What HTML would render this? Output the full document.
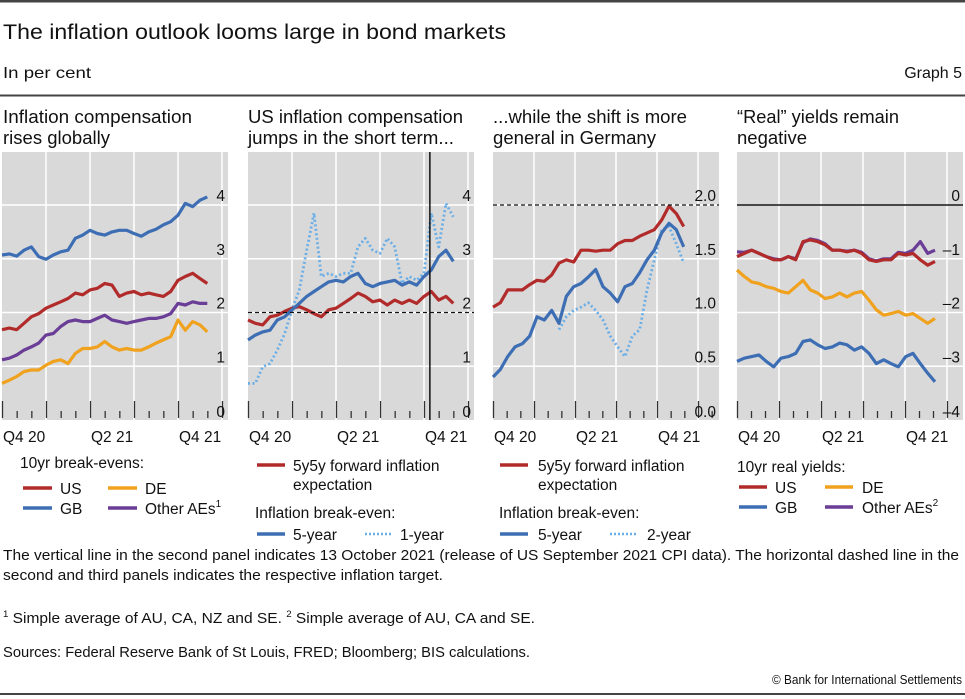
<!DOCTYPE html>
<html><head><meta charset="utf-8"><style>
html,body{margin:0;padding:0;background:#fff}
svg{display:block;font-family:"Liberation Sans",sans-serif}
</style></head><body>
<svg id="c" width="965" height="699" viewBox="0 0 965 699" xmlns="http://www.w3.org/2000/svg">
<rect x="0" y="0" width="965" height="2.5" fill="#444"/>
<text x="3" y="39" font-size="21" fill="#111" textLength="503" lengthAdjust="spacingAndGlyphs">The inflation outlook looms large in bond markets</text>
<text x="3" y="78" font-size="16" fill="#111" textLength="88" lengthAdjust="spacingAndGlyphs">In per cent</text>
<text x="962" y="78" font-size="16" fill="#111" text-anchor="end">Graph 5</text>
<rect x="0" y="94.5" width="965" height="2" fill="#444"/>

<text x="3" y="123" font-size="18" fill="#111" textLength="189" lengthAdjust="spacingAndGlyphs">Inflation compensation</text>
<text x="3" y="144" font-size="18" fill="#111" textLength="107" lengthAdjust="spacingAndGlyphs">rises globally</text>
<text x="248" y="123" font-size="18" fill="#111" textLength="215" lengthAdjust="spacingAndGlyphs">US inflation compensation</text>
<text x="248" y="144" font-size="18" fill="#111" textLength="206" lengthAdjust="spacingAndGlyphs">jumps in the short term...</text>
<text x="493" y="123" font-size="18" fill="#111" textLength="194" lengthAdjust="spacingAndGlyphs">...while the shift is more</text>
<text x="493" y="144" font-size="18" fill="#111" textLength="163" lengthAdjust="spacingAndGlyphs">general in Germany</text>
<text x="737" y="123" font-size="18" fill="#111" textLength="162" lengthAdjust="spacingAndGlyphs">“Real” yields remain</text>
<text x="737" y="144" font-size="18" fill="#111" textLength="70" lengthAdjust="spacingAndGlyphs">negative</text>

<g id="panels"></g>

<g font-size="15.5" fill="#111">
<text x="20" y="468">10yr break-evens:</text>
<line x1="23" y1="488" x2="52" y2="488" stroke="#b22b2b" stroke-width="3.5"/>
<text x="60" y="494">US</text>
<line x1="108" y1="488" x2="137" y2="488" stroke="#f0a21e" stroke-width="3.5"/>
<text x="145" y="494">DE</text>
<line x1="23" y1="508" x2="52" y2="508" stroke="#3d6eb4" stroke-width="3.5"/>
<text x="60" y="514">GB</text>
<line x1="108" y1="508" x2="137" y2="508" stroke="#6a3d96" stroke-width="3.5"/>
<text x="145" y="514">Other AEs<tspan font-size="10" dy="-7">1</tspan></text>
</g>
<g font-size="15.5" fill="#111">
<line x1="257" y1="465" x2="285" y2="465" stroke="#b22b2b" stroke-width="3.5"/>
<text x="293" y="471">5y5y forward inflation</text>
<text x="293" y="490">expectation</text>
<text x="255" y="518">Inflation break-even:</text>
<line x1="257" y1="534" x2="285" y2="534" stroke="#3d6eb4" stroke-width="3.5"/>
<text x="293" y="540">5-year</text>
<line x1="365" y1="534" x2="393" y2="534" stroke="#6aaee8" stroke-width="2.5" stroke-dasharray="2,2"/>
<text x="400" y="540">1-year</text>
</g>
<g font-size="15.5" fill="#111">
<line x1="500" y1="465" x2="528" y2="465" stroke="#b22b2b" stroke-width="3.5"/>
<text x="538" y="471">5y5y forward inflation</text>
<text x="538" y="490">expectation</text>
<text x="499" y="518">Inflation break-even:</text>
<line x1="500" y1="534" x2="528" y2="534" stroke="#3d6eb4" stroke-width="3.5"/>
<text x="538" y="540">5-year</text>
<line x1="610" y1="534" x2="638" y2="534" stroke="#6aaee8" stroke-width="2.5" stroke-dasharray="2,2"/>
<text x="647" y="540">2-year</text>
</g>
<g font-size="15.5" fill="#111">
<text x="737" y="472">10yr real yields:</text>
<line x1="739" y1="487" x2="767" y2="487" stroke="#b22b2b" stroke-width="3.5"/>
<text x="775" y="493">US</text>
<line x1="825" y1="487" x2="853" y2="487" stroke="#f0a21e" stroke-width="3.5"/>
<text x="862" y="493">DE</text>
<line x1="739" y1="507" x2="767" y2="507" stroke="#3d6eb4" stroke-width="3.5"/>
<text x="775" y="513">GB</text>
<line x1="825" y1="507" x2="853" y2="507" stroke="#6a3d96" stroke-width="3.5"/>
<text x="862" y="513">Other AEs<tspan font-size="10" dy="-7">2</tspan></text>
</g>

<g font-size="14.5" fill="#111">
<text x="3" y="560" textLength="956" lengthAdjust="spacingAndGlyphs">The vertical line in the second panel indicates 13 October 2021 (release of US September 2021 CPI data). The horizontal dashed line in the</text>
<text x="3" y="580" textLength="440" lengthAdjust="spacingAndGlyphs">second and third panels indicates the respective inflation target.</text>
<text x="3" y="623" textLength="532" lengthAdjust="spacingAndGlyphs"><tspan font-size="9" dy="-6">1</tspan><tspan dy="6">  Simple average of AU, CA, NZ and SE.    </tspan><tspan font-size="9" dy="-6">2</tspan><tspan dy="6">  Simple average of AU, CA and SE.</tspan></text>
<text x="3" y="657" textLength="527" lengthAdjust="spacingAndGlyphs">Sources: Federal Reserve Bank of St Louis, FRED; Bloomberg; BIS calculations.</text>
<text x="962" y="684" font-size="12.5" text-anchor="end" textLength="190" lengthAdjust="spacingAndGlyphs">© Bank for International Settlements</text>
</g>
<rect x="0" y="693" width="965" height="2" fill="#444"/>
</svg>
<script>
// Panel 1: 10yr break-evens (months since Oct 2020, half-month steps)
const p1US=[1.68,1.71,1.68,1.80,1.92,1.98,2.08,2.14,2.20,2.26,2.36,2.33,2.42,2.45,2.54,2.51,2.30,2.36,2.39,2.33,2.36,2.33,2.30,2.39,2.60,2.67,2.73,2.63,2.54];
const p1GB=[3.07,3.09,3.05,3.16,3.22,3.04,2.99,3.07,3.13,3.16,3.38,3.44,3.53,3.47,3.44,3.50,3.53,3.53,3.47,3.42,3.50,3.55,3.63,3.69,3.81,4.03,3.97,4.09,4.15];
const p1Other=[1.12,1.15,1.21,1.30,1.36,1.43,1.58,1.61,1.74,1.83,1.86,1.83,1.83,1.89,1.95,1.86,1.83,1.80,1.83,1.86,1.89,1.89,1.92,1.98,2.17,2.14,2.20,2.17,2.17];
const p1DE=[0.68,0.74,0.81,0.90,0.93,0.93,1.02,1.09,1.12,1.05,1.24,1.33,1.33,1.36,1.46,1.36,1.30,1.33,1.30,1.30,1.36,1.43,1.49,1.55,1.86,1.67,1.83,1.77,1.64];
// Panel 2: US
const p2FiveFive=[1.86,1.80,1.77,1.92,1.95,2.02,2.08,2.11,2.05,1.98,1.92,2.05,2.08,2.17,2.26,2.36,2.30,2.20,2.23,2.14,2.23,2.17,2.23,2.17,2.30,2.39,2.23,2.30,2.17];
const p2FiveYear=[1.49,1.58,1.64,1.67,1.86,1.92,2.05,2.17,2.30,2.39,2.48,2.57,2.60,2.57,2.67,2.73,2.54,2.48,2.54,2.57,2.60,2.51,2.57,2.51,2.67,2.79,3.04,3.16,2.95];
const p2OneYear=[0.68,0.68,0.99,1.05,1.30,1.61,2.05,2.42,3.16,3.85,2.67,2.73,2.67,2.73,2.73,3.22,3.38,3.16,3.10,3.38,3.22,2.54,2.67,2.60,2.73,3.85,3.22,4.03,3.78];
const p2Target=2;
const p2EventMonth=12.4;
// Panel 3: Germany
const p3FiveFive=[1.05,1.09,1.21,1.21,1.21,1.26,1.30,1.29,1.35,1.46,1.49,1.47,1.58,1.58,1.57,1.58,1.58,1.64,1.67,1.67,1.71,1.74,1.77,1.86,1.99,1.92,1.80];
const p3FiveYear=[0.40,0.47,0.59,0.68,0.71,0.78,0.96,0.93,1.02,0.90,1.15,1.24,1.27,1.33,1.40,1.24,1.18,1.10,1.24,1.27,1.37,1.49,1.58,1.74,1.83,1.77,1.61];
const p3TwoYear=[null,null,null,null,null,null,null,null,null,0.84,0.96,1.02,1.05,1.09,1.02,0.93,0.78,0.68,0.59,0.78,0.84,1.21,1.49,1.77,1.80,1.64,1.46];
const p3Target=2;
// Panel 4: real yields
const p4US=[-0.96,-0.90,-0.84,-0.90,-0.96,-1.02,-1.02,-0.96,-1.02,-0.68,-0.65,-0.68,-0.74,-0.84,-0.84,-0.87,-0.84,-0.90,-1.02,-1.05,-1.02,-1.02,-0.90,-0.93,-0.90,-1.02,-1.12,-1.05];
const p4Other=[-0.87,-0.88,-0.84,-0.90,-0.96,-1.00,-1.02,-0.96,-1.00,-0.70,-0.63,-0.66,-0.72,-0.84,-0.84,-0.86,-0.84,-0.88,-1.00,-1.04,-1.00,-1.00,-0.88,-0.90,-0.84,-0.68,-0.90,-0.84];
const p4DE=[-1.21,-1.33,-1.43,-1.46,-1.52,-1.55,-1.61,-1.64,-1.52,-1.40,-1.58,-1.64,-1.74,-1.71,-1.64,-1.71,-1.64,-1.61,-1.77,-1.95,-2.05,-2.02,-1.98,-2.05,-2.02,-2.11,-2.20,-2.11];
const p4GB=[-2.91,-2.85,-2.82,-2.79,-2.91,-3.01,-2.85,-2.82,-2.76,-2.54,-2.51,-2.60,-2.67,-2.64,-2.57,-2.60,-2.70,-2.64,-2.76,-2.95,-2.88,-2.95,-3.01,-2.82,-2.76,-2.95,-3.13,-3.29];
const tickLabels1=["0","1","2","3","4"];
const tickLabels3=["0.0","0.5","1.0","1.5","2.0"];
const tickLabels4=["–4","–3","–2","–1","0"];
const xLabels=["Q4 20","Q2 21","Q4 21"];

const NS="http://www.w3.org/2000/svg";
const root=document.getElementById('panels');
function mk(tag,attrs,parent){const e=document.createElementNS(NS,tag);for(const k in attrs)e.setAttribute(k,attrs[k]);(parent||root).appendChild(e);return e;}
const TOP=152,BOT=420;

function panel(id,left,quarterPx,vmin,vmax,tickVals,tickLbls){
  const W=226;
  const g=mk('g',{});
  
  
  const bg=mk('rect',{x:left,y:TOP,width:W,height:BOT-TOP,fill:'#d9d9d9'},g);
  
  
  const monthPx=quarterPx/3;
  const xs=m=>left+m*monthPx;
  const ys=v=>BOT-(v-vmin)/(vmax-vmin)*(BOT-205);
  for(let m=0;m*monthPx<W-2;m++){
    const x=xs(m);
    if(m%3===0&&m>0){const gl=mk('line',{x1:x,y1:TOP,x2:x,y2:BOT,stroke:'#fff','stroke-width':1.5},g);
      
      }
    const major=m%3===0;
    const tk=mk('line',{x1:x+0.5,y1:major?401:411,x2:x+0.5,y2:418,stroke:'#333','stroke-width':1.3},g);
    
    
  }
  tickVals.forEach((v,i)=>{
    const y=ys(v);
    if(v!==vmin){const gl=mk('line',{x1:left,y1:y,x2:left+W,y2:y,stroke:'#fff','stroke-width':1.5},g);
      
      }
    const t=mk('text',{x:left+W-3,y:v===vmin?y-3:y-4,'font-size':15.5,'text-anchor':'end',fill:'#111'},g);
    t.textContent=tickLbls[i];
    
    
  });
  xLabels.forEach((l,i)=>{
    const t=mk('text',{x:xs(i*6)+1,y:442,'font-size':15.5,fill:'#111'},g);
    t.textContent=l;
    
    
  });
  return {g,xs,ys,left,W};
}
function series(p,name,vals,color,step,dotted){
  let d='',pen=false;
  vals.forEach((v,i)=>{
    if(v===null){pen=false;return;}
    d+=(pen?'L':'M')+p.xs(i*step).toFixed(1)+','+p.ys(v).toFixed(1);pen=true;
  });
  const a={d:d,fill:'none',stroke:color,'stroke-width':dotted?2.8:3.2,'stroke-linejoin':'round'};
  if(dotted){a['stroke-dasharray']='2,2.5';}
  const e=mk('path',a,p.g);
  
  
}
const RED='#b22b2b',BLUE='#3d6eb4',ORA='#f0a21e',PUR='#6a3d96',LB='#6aaee8';

const P1=panel('panel1',2,44,0,4,[0,1,2,3,4],tickLabels1);
series(P1,'p1-line-gb',p1GB,BLUE,0.5);
series(P1,'p1-line-de',p1DE,ORA,0.5);
series(P1,'p1-line-other-aes',p1Other,PUR,0.5);
series(P1,'p1-line-us',p1US,RED,0.5);

const P2=panel('panel2',248,44,0,4,[0,1,2,3,4],tickLabels1);
series(P2,'p2-line-1year',p2OneYear,LB,0.5,true);
series(P2,'p2-line-5y5y',p2FiveFive,RED,0.5);
series(P2,'p2-line-5year',p2FiveYear,BLUE,0.5);
const tl2=mk('line',{x1:248,y1:P2.ys(p2Target),x2:474,y2:P2.ys(p2Target),stroke:'#111','stroke-width':1.3,'stroke-dasharray':'4,3'},P2.g);


const ev=mk('line',{x1:P2.xs(p2EventMonth),y1:TOP,x2:P2.xs(p2EventMonth),y2:BOT,stroke:'#111','stroke-width':1.5},P2.g);



const P3=panel('panel3',493,41,0,2,[0,0.5,1,1.5,2],tickLabels3);
const s3=0.5*44/41;
series(P3,'p3-line-2year',p3TwoYear,LB,s3,true);
series(P3,'p3-line-5year',p3FiveYear,BLUE,s3);
series(P3,'p3-line-5y5y',p3FiveFive,RED,s3);
const tl3=mk('line',{x1:493,y1:P3.ys(p3Target),x2:719,y2:P3.ys(p3Target),stroke:'#111','stroke-width':1.3,'stroke-dasharray':'4,3'},P3.g);



const P4=panel('panel4',737,42,-4,0,[-4,-3,-2,-1,0],tickLabels4);
const s4=0.5*44/42;
const z4=mk('line',{x1:737,y1:P4.ys(0),x2:963,y2:P4.ys(0),stroke:'#111','stroke-width':1.5},P4.g);


series(P4,'p4-line-gb',p4GB,BLUE,s4);
series(P4,'p4-line-de',p4DE,ORA,s4);
series(P4,'p4-line-other-aes',p4Other,PUR,s4);
series(P4,'p4-line-us',p4US,RED,s4);
</script>
</body></html>
